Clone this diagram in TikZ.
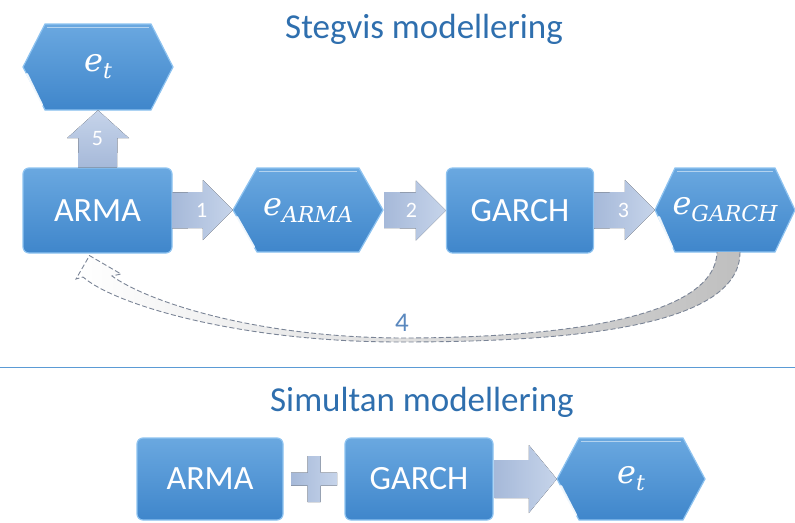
\documentclass[tikz,border=0pt]{standalone}
\usepackage{fontspec}
\setmainfont{Carlito}
\newfontfamily\mathlike{DejaVu Serif}
\usetikzlibrary{calc}
\definecolor{boxtop}{HTML}{6AA8E0}
\definecolor{boxbot}{HTML}{3F86CB}
\definecolor{boxedge}{HTML}{8EC3F0}
\definecolor{arrL}{HTML}{A6B9D9}
\definecolor{arrR}{HTML}{C6D4EA}
\definecolor{titleblue}{HTML}{2F6FAE}
\definecolor{numblue}{HTML}{5A88BE}
\definecolor{dashgray}{HTML}{7A8496}
\definecolor{rulecol}{HTML}{5B9BD5}
\newcommand{\evar}[1]{{\mathlike\itshape\fontsize{32}{36}\selectfont e\raisebox{-7pt}{\fontsize{22}{24}\selectfont #1}}}
\newcommand{\hexfill}[5]{%
  \path[hexsty] (#1-#3,#2) -- (#1-#3+#5,#2-#4) -- (#1+#3-#5,#2-#4) -- (#1+#3,#2) -- (#1+#3-#5,#2+#4) -- (#1-#3+#5,#2+#4) -- cycle;
  \draw[white, opacity=.85, line width=2.2pt, line cap=round] (#1-#3+4,#2+7) -- (#1-#3+#5-3,#2+#4-5);
  \draw[white, opacity=.5, line width=1pt] (#1-#3+#5+2,#2-#4+3) -- (#1+#3-#5-2,#2-#4+3);
}
\begin{document}
\begin{tikzpicture}[x=1pt,y=-1pt,
  hexsty/.style={top color=boxtop, bottom color=boxbot, draw=boxedge, line width=1.2pt},
  rbox/.style={rectangle, rounded corners=6pt, top color=boxtop, bottom color=boxbot, draw=boxedge, line width=1.2pt, text=white, font=\fontsize{34}{38}\selectfont, inner sep=0pt},
  hexnode/.style={rectangle, inner sep=0pt, text=white},
  harrow/.style={left color=arrL, right color=arrR},
  varrow/.style={bottom color=arrL, top color=arrR},
  numlab/.style={text=white, font=\fontsize{22}{24}\selectfont, inner sep=0pt},
  titlesty/.style={text=titleblue, font=\fontsize{35}{40}\selectfont, inner sep=0pt, anchor=base},
  dashline/.style={draw=dashgray, dashed, dash pattern=on 5pt off 2.5pt, line width=0.9pt}
]
\useasboundingbox (0,0) rectangle (795,522);

% titles
\node[titlesty] (t1) at (424,38) {Stegvis modellering};
\node[titlesty] (t2) at (422,411) {Simultan modellering};

% top row boxes
\hexfill{98}{67}{75}{43}{22}
\node[hexnode, minimum width=150pt, minimum height=86pt] (etop) at (98,67) {\evar{t}};

\node[rbox, minimum width=149pt, minimum height=85pt] (arma) at (97.5,210.5) {ARMA};

\hexfill{308}{210}{75}{42}{24}
\node[hexnode, minimum width=150pt, minimum height=84pt] (earma) at (308,210) {\evar{ARMA}};

\node[rbox, minimum width=147pt, minimum height=85pt] (garch) at (520,210.5) {GARCH};

\hexfill{725}{210}{70}{42}{20}
\node[hexnode, minimum width=140pt, minimum height=84pt] (egarch) at (725,210) {\evar{GARCH}};

% block arrows top row
\fill[harrow] ($(arma.east)+(0,-18)$) -- ($(earma.west)+(-30,-18)$) -- ($(earma.west)+(-30,-30)$) -- (earma.west) -- ($(earma.west)+(-30,30)$) -- ($(earma.west)+(-30,18)$) -- ($(arma.east)+(0,18)$) -- cycle;
\node[numlab] (n1) at ($(arma.east)!0.5!(earma.west)+(-1,0)$) {1};

\fill[harrow] ($(earma.east)+(1,-18)$) -- ($(garch.west)+(-30,-18)$) -- ($(garch.west)+(-30,-30)$) -- (garch.west) -- ($(garch.west)+(-30,30)$) -- ($(garch.west)+(-30,18)$) -- ($(earma.east)+(1,18)$) -- cycle;
\node[numlab] (n2) at ($(earma.east)!0.5!(garch.west)+(-3,0)$) {2};

\fill[harrow] ($(garch.east)+(0,-18)$) -- ($(egarch.west)+(-30,-18)$) -- ($(egarch.west)+(-30,-30)$) -- (egarch.west) -- ($(egarch.west)+(-30,30)$) -- ($(egarch.west)+(-30,18)$) -- ($(garch.east)+(0,18)$) -- cycle;
\node[numlab] (n3) at ($(garch.east)!0.5!(egarch.west)+(-1,0)$) {3};

% vertical arrow 5
\fill[varrow] ($(arma.north)+(-19.5,0)$) -- ($(etop.south)+(-19.5,28)$) -- ($(etop.south)+(-31,28)$) -- (etop.south) -- ($(etop.south)+(31,28)$) -- ($(etop.south)+(19.5,28)$) -- ($(arma.north)+(19.5,0)$) -- cycle;
\node[numlab] (n5) at ($(arma.north)+(0,-29)$) {5};

% curved arrow 4
\coordinate (c4o) at ($(egarch.south)+(15,0)$);
\coordinate (c4i) at ($(egarch.south)+(-8,0)$);
\coordinate (c4tip) at ($(arma.south)+(-8,2)$);
\path[left color=white, middle color=white, right color=gray!50]
  (c4o) .. controls ($(c4o)+(0,75)$) and (570,342) .. (400,342)
  .. controls (240,342) and (115,305) .. (83,277)
  -- (76,279) -- (c4tip) -- (121,274) -- (112,276)
  .. controls (145,300) and (250,337) .. (400,338)
  .. controls (565,338) and ($(c4i)+(-2,65)$) .. (c4i) -- cycle;
\draw[dashline]
  (c4o) .. controls ($(c4o)+(0,75)$) and (570,342) .. (400,342)
  .. controls (240,342) and (115,305) .. (83,277)
  -- (76,279) -- (c4tip) -- (121,274) -- (112,276)
  .. controls (145,300) and (250,337) .. (400,338)
  .. controls (565,338) and ($(c4i)+(-2,65)$) .. (c4i);
\node[text=numblue, font=\fontsize{27}{30}\selectfont, inner sep=0pt] (n4) at (402,323) {4};

% divider
\draw[rulecol, line width=1pt] (0,367) -- (795,367);

% bottom row
\node[rbox, minimum width=146pt, minimum height=82pt] (arma2) at (210,479) {ARMA};
\node[rbox, minimum width=148pt, minimum height=82pt] (garch2) at (419,479) {GARCH};
\hexfill{631}{479}{74}{41}{22}
\node[hexnode, minimum width=148pt, minimum height=82pt] (et2) at (631,479) {\evar{t}};

\coordinate (pc) at ($(arma2.east)!0.5!(garch2.west)$);
\fill[harrow] ($(pc)+(-6.5,-23)$) -- ($(pc)+(6.5,-23)$) -- ($(pc)+(6.5,-6.5)$) -- ($(pc)+(23,-6.5)$) -- ($(pc)+(23,6.5)$) -- ($(pc)+(6.5,6.5)$) -- ($(pc)+(6.5,23)$) -- ($(pc)+(-6.5,23)$) -- ($(pc)+(-6.5,6.5)$) -- ($(pc)+(-23,6.5)$) -- ($(pc)+(-23,-6.5)$) -- ($(pc)+(-6.5,-6.5)$) -- cycle;

\fill[harrow] ($(garch2.east)+(1,-19)$) -- ($(et2.west)+(-28,-19)$) -- ($(et2.west)+(-28,-34)$) -- (et2.west) -- ($(et2.west)+(-28,34)$) -- ($(et2.west)+(-28,19)$) -- ($(garch2.east)+(1,19)$) -- cycle;
\end{tikzpicture}
\end{document}
